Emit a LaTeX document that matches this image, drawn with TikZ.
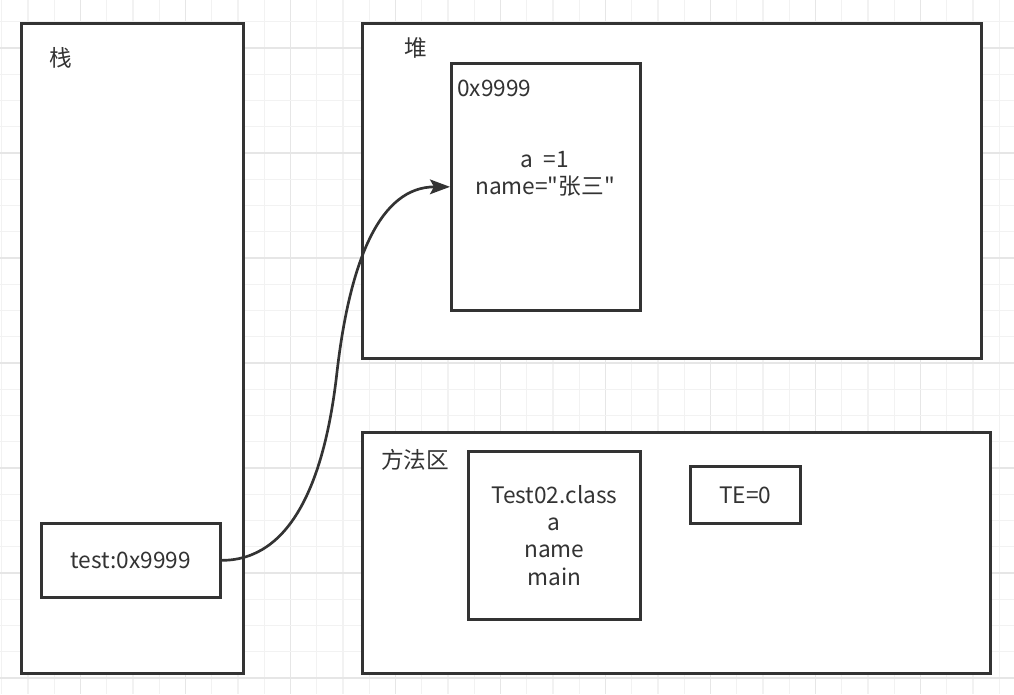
\documentclass[tikz,border=0pt]{standalone}
\usepackage{fontspec}
\setmainfont{Noto Sans CJK SC}[Ligatures=TeXOff]
\usetikzlibrary{arrows.meta,positioning}
\definecolor{ink}{HTML}{333333}
\definecolor{gridminor}{HTML}{F2F2F2}
\definecolor{gridmajor}{HTML}{E6E6E6}

\begin{document}
\begin{tikzpicture}[
x=0.75pt, y=-0.75pt,
every node/.style={
text=ink,
font=\fontsize{17}{20.6}\selectfont
},
memarea/.style n args={2}{
draw=ink,
line width=2pt,
fill=white,
inner sep=0pt,
anchor=north west,
align=center,
minimum width=#1*0.75pt,
minimum height=#2*0.75pt
},
tag/.style={inner sep=0pt}
]
\useasboundingbox (0,0) rectangle (1014,694);
\fill[white] (0,0) rectangle (1014,694);
% grid
\foreach \i in {0,...,38} {
  \pgfmathtruncatemacro{\m}{mod(\i,4)}
  \ifnum\m=3 \def\gc{gridmajor}\else\def\gc{gridminor}\fi
  \draw[\gc, line width=1pt] (1.75+26.25*\i,0) -- (1.75+26.25*\i,694);
}
\foreach \j in {0,...,25} {
  \pgfmathtruncatemacro{\m}{mod(\j,4)}
  \ifnum\m=1 \def\gc{gridmajor}\else\def\gc{gridminor}\fi
  \draw[\gc, line width=1pt] (0,21.75+26.25*\j) -- (1014,21.75+26.25*\j);
}

% stack
\node (stack) [memarea={222}{650}] at (20,22) {};
\node (stacklbl) [tag] at (61,58) {栈};
\node (ref) [memarea={179}{74}] at (40,522) {test:0x9999};

% heap
\node (heap) [memarea={619}{335}] at (361,22) {};
\node (heaplbl) [tag] at (416,48) {堆};
\node (obj) [memarea={189}{247}] at (450,62) {};
\node (addr) [tag, anchor=west] at (457,88) {0x9999};
\node (fields) [tag, align=center] at (545,174) {a \ =1\\name="张三"};

% method area
\node (method) [memarea={628}{241}] at (361,431) {};
\node (methodlbl) [tag] at (415,460) {方法区};
\node (cls) [memarea={172}{168}] at (467,450) {Test02.class\\a\\name\\main};
\node (const) [memarea={110}{57}] at (689,465) {TE=0};

% reference
\coordinate (bend) at (337,372);
\draw[-{Stealth[length=15pt,width=11pt,inset=3pt]}, ink, line width=2pt]
  (ref.east) .. controls +(70,0) and (325,480) .. (bend)
  .. controls (350,260) and +(-70,0) .. (obj.west);
\end{tikzpicture}
\end{document}
